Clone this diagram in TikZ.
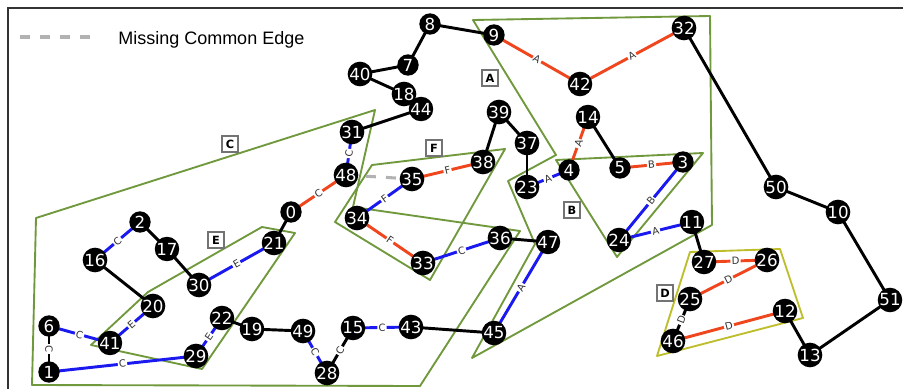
\documentclass[tikz,border=0pt]{standalone}
\usepackage{fontspec}
\setmainfont{DejaVu Sans}
\newfontfamily\legendfont{Liberation Sans}
\usepackage{tikz}
\usetikzlibrary{arrows.meta}

\definecolor{hullgreen}{RGB}{112,152,60}
\definecolor{hullolive}{RGB}{190,190,45}
\definecolor{edgered}{RGB}{240,70,30}
\definecolor{edgeblue}{RGB}{25,25,240}

\tikzset{
  vert/.style={circle, fill=black, minimum size=16pt, inner sep=0pt,
    text=white, font=\fontsize{12.5}{12.5}\selectfont},
  plainedge/.style={black, line width=2.2pt},
  rededge/.style={edgered, line width=2.2pt},
  blueedge/.style={edgeblue, line width=2.2pt},
  elab/.style={fill=white, inner sep=0.9pt, sloped, text=black!80,
    font=\fontsize{7.5}{7.5}\selectfont},
  hull/.style={hullgreen, line width=1.4pt, line join=round},
  tagbox/.style={draw=black!55, fill=white, line width=0.8pt, inner sep=0pt,
    minimum size=12pt, font=\bfseries\fontsize{8.5}{8.5}\selectfont},
  missing/.style={black!30, line width=2.3pt, dash pattern=on 7.5pt off 7.5pt}
}

\begin{document}
\begin{tikzpicture}[x=0.75pt, y=-0.75pt]
        \useasboundingbox (0,0) rectangle (904,389);
        \draw[black!80, line width=1.1pt] (903,8) -- (8,8) -- (8,389);
        % legend
        \draw[missing] (20,37) -- (97,37);
        \node[anchor=base west, inner sep=0pt, font=\legendfont\fontsize{13.5}{13.5}\selectfont] (legend) at (118,44) {Missing Common Edge};
        % regions
        \draw[hull] (473,20) -- (710,16) -- (712,225) -- (472,358) -- (535,244) -- (508,181) -- (556,155) -- cycle;
        \draw[hull] (556,160) -- (703,153) -- (617,257) -- cycle;
        \draw[hull] (36,218) -- (375,110) -- (353,207) -- (520,231) -- (420,386) -- (32,385) -- cycle;
        \draw[hull] (91,345) -- (148,292) -- (262,227) -- (295,233) -- (202,369) -- cycle;
        \draw[hull] (335,222) -- (372,165) -- (505,149) -- (430,280) -- cycle;
        \draw[hull, hullolive] (690,252) -- (780,249) -- (803,318) -- (657,356) -- cycle;
        % vertices
        \foreach \n/\x/\y in {0/291/212, 1/49/372, 2/140/222, 3/683/162, 4/569/170,
            5/620/168, 6/49/326, 7/408/65, 8/430/24, 9/494/35, 10/838/212,
            11/692/222, 12/785/311, 13/810/355, 14/588/117, 15/353/328,
            16/95/260, 17/167/249, 18/404/94, 19/252/329, 20/153/306,
            21/274/243, 22/222/318, 23/527/187, 24/619/240, 25/690/299,
            26/767/260, 27/704/262, 28/327/373, 29/196/356, 30/199/285,
            31/352/132, 32/684/28, 33/423/263, 34/357/218, 35/412/179,
            36/500/238, 37/527/143, 38/483/162, 39/499/112, 40/360/74,
            41/110/343, 42/580/84, 43/411/327, 44/421/109, 45/494/333,
            46/673/341, 47/548/242, 48/346/175, 49/303/331, 50/776/187,
            51/890/300}
            \coordinate (p\n) at (\x,\y);
        % edges
        \draw[missing] (p48) -- (p35);
        \foreach \a/\b in {8/9, 8/7, 7/40, 40/18, 18/44, 44/31, 39/38, 39/37,
            37/23, 14/5, 32/50, 50/10, 10/51, 51/13, 13/12, 0/21, 2/17, 17/30,
            16/20, 22/19, 19/49, 43/45, 36/47, 11/27}
            \draw[plainedge] (p\a) -- (p\b);
        \foreach \a/\b/\l in {6/1/C, 28/15/C, 25/46/D}
            \draw[plainedge] (p\a) -- node[elab] {\l} (p\b);
        \foreach \a/\b/\l in {9/42/A, 42/32/A, 14/4/A, 5/3/B, 35/38/F, 34/33/F,
            48/0/C, 27/26/D, 26/25/D, 46/12/D}
            \draw[rededge] (p\a) -- node[elab] {\l} (p\b);
        \foreach \a/\b/\l in {23/4/A, 3/24/B, 24/11/A, 47/45/A, 31/48/C, 34/35/F,
            33/36/C, 16/2/C, 30/21/E, 41/20/E, 6/41/C, 1/29/C, 29/22/E,
            49/28/C, 15/43/C}
            \draw[blueedge] (p\a) -- node[elab] {\l} (p\b);
        \foreach \n in {0,...,51}
            \node[vert] (n\n) at (p\n) {\n};
        % region tags
        \node[tagbox] (tagA) at (490,78) {A};
        \node[tagbox] (tagB) at (572,210) {B};
        \node[tagbox] (tagC) at (230,144) {C};
        \node[tagbox] (tagD) at (665,293) {D};
        \node[tagbox] (tagE) at (216,240) {E};
        \node[tagbox] (tagF) at (434,148) {F};
\end{tikzpicture}
\end{document}
